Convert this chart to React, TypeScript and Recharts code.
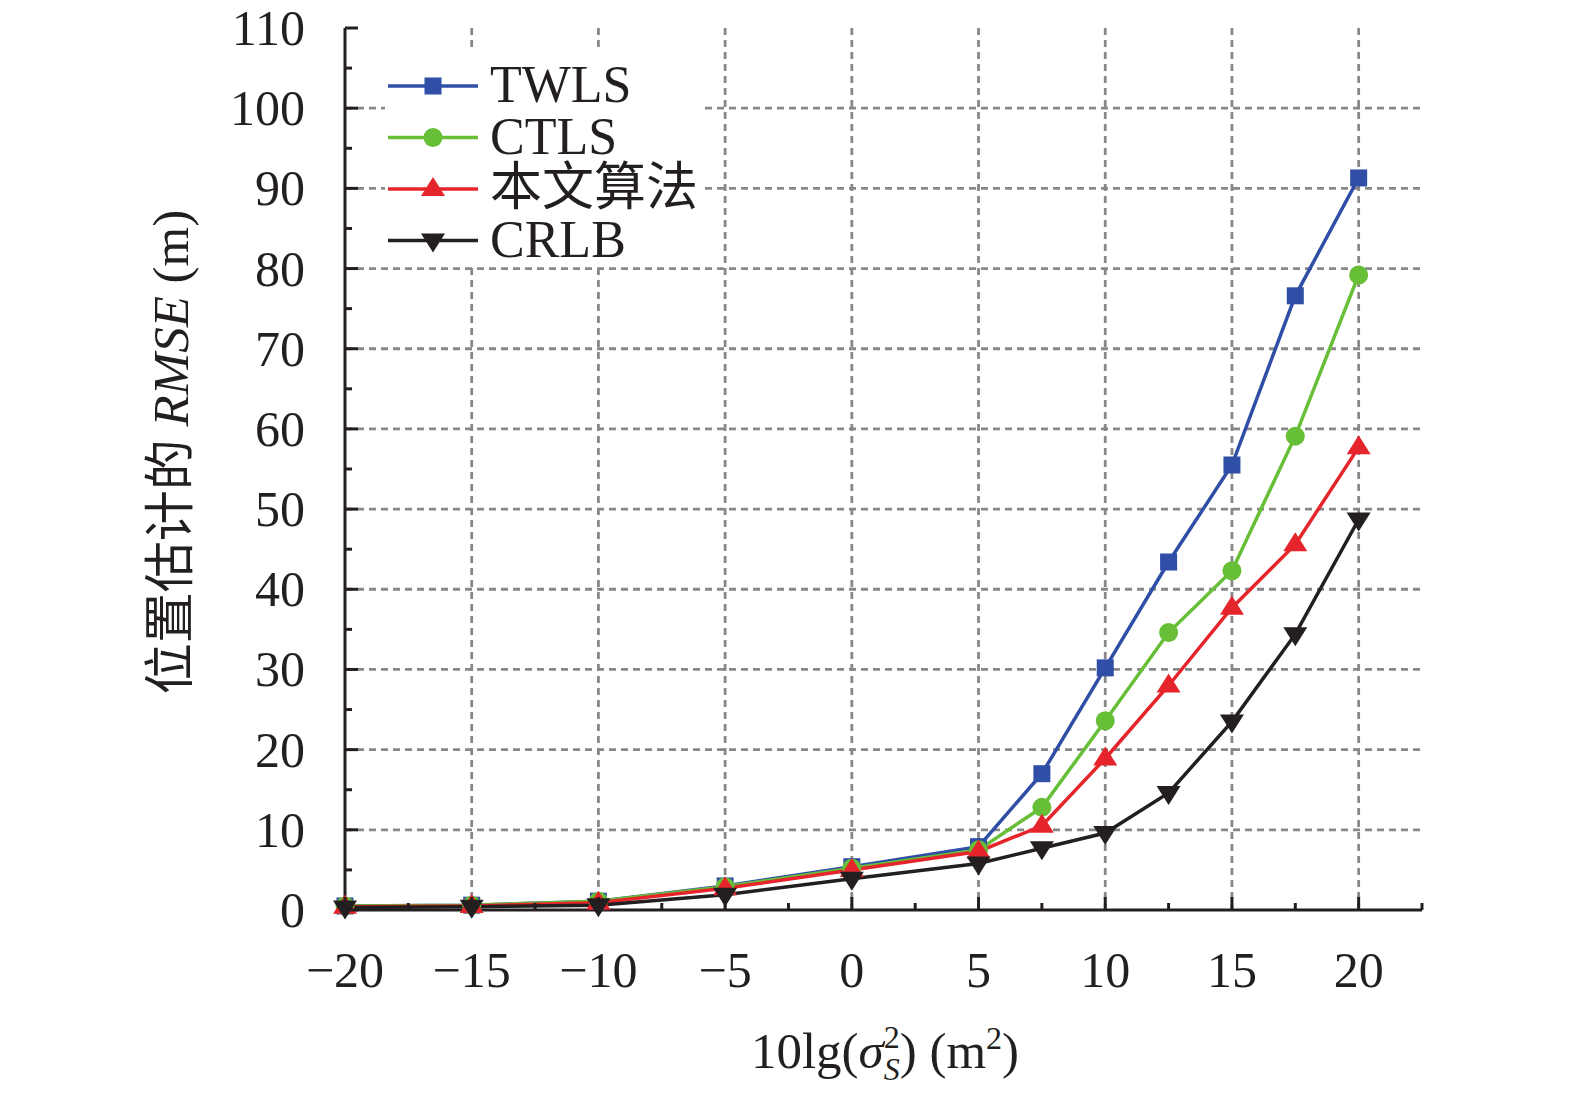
import React from 'react';
import { LineChart, Line, XAxis, YAxis, CartesianGrid, Legend, Label } from 'recharts';

// x: 10lg(sigma_S^2), y: position RMSE (m)
const xValues = [-20, -15, -10, -5, 0, 5, 7.5, 10, 12.5, 15, 17.5, 20];
const twls = [0.5, 0.6, 1.1, 3.0, 5.4, 7.9, 17.0, 30.2, 43.4, 55.5, 76.6, 91.3];
const ctls = [0.5, 0.6, 1.1, 2.9, 5.2, 7.5, 12.8, 23.6, 34.6, 42.3, 59.1, 79.2];
const ours = [0.4, 0.5, 0.9, 2.7, 5.0, 7.3, 10.5, 18.9, 28.0, 37.7, 45.6, 57.7];
const crlb = [0.3, 0.4, 0.6, 1.9, 3.9, 5.8, 7.7, 9.6, 14.6, 23.5, 34.4, 48.7];

const xTicks = [-20, -17.5, -15, -12.5, -10, -7.5, -5, -2.5, 0, 2.5, 5, 7.5, 10, 12.5, 15, 17.5, 20, 22.5];
const yTicks = [0, 5, 10, 15, 20, 25, 30, 35, 40, 45, 50, 55, 60, 65, 70, 75, 80, 85, 90, 95, 100, 105, 110];
const xGrid = [-15, -10, -5, 0, 5, 10, 15, 20];
const yGrid = [10, 20, 30, 40, 50, 60, 70, 80, 90, 100];

const X_DOMAIN: [number, number] = [-20, 22.5];
const Y_DOMAIN: [number, number] = [0, 110];

const FONT = '"Liberation Serif", "Times New Roman", "Noto Sans CJK SC", serif';
const INK = '#231F20';
const GRID = '#888888';

const data = xValues.map((x, i) => ({
  x,
  twls: twls[i],
  ctls: ctls[i],
  ours: ours[i],
  crlb: crlb[i],
}));

type Shape = 'square' | 'circle' | 'up' | 'down';

const series: { key: string; name: string; color: string; shape: Shape }[] = [
  { key: 'twls', name: 'TWLS', color: '#2F4EA6', shape: 'square' },
  { key: 'ctls', name: 'CTLS', color: '#67BE37', shape: 'circle' },
  { key: 'ours', name: '本文算法', color: '#E5242B', shape: 'up' },
  { key: 'crlb', name: 'CRLB', color: INK, shape: 'down' },
];

const marker = (shape: Shape, cx: number, cy: number, color: string, key?: React.Key) => {
  switch (shape) {
    case 'square':
      return <rect key={key} x={cx - 8.5} y={cy - 8.5} width={17} height={17} fill={color} />;
    case 'circle':
      return <circle key={key} cx={cx} cy={cy} r={9.5} fill={color} />;
    case 'up':
      return <polygon key={key} points={`${cx},${cy - 12} ${cx - 12},${cy + 7} ${cx + 12},${cy + 7}`} fill={color} />;
    default:
      return <polygon key={key} points={`${cx},${cy + 12} ${cx - 12},${cy - 7} ${cx + 12},${cy - 7}`} fill={color} />;
  }
};

const fmt = (v: number) => (v < 0 ? '\u2212' + Math.abs(v) : String(v));

const XTick = (props: any) => {
  const { x, y, payload } = props;
  const v = payload.value;
  const major = v % 5 === 0;
  return (
    <g>
      <line x1={x} x2={x} y1={y} y2={y - (major ? 13 : 7)} stroke={INK} strokeWidth={3} />
      {major && (
        <text x={x} y={y + 77} textAnchor="middle" fontSize={50} fontFamily={FONT} fill={INK}>
          {fmt(v)}
        </text>
      )}
    </g>
  );
};

const YTick = (props: any) => {
  const { x, y, payload } = props;
  const v = payload.value;
  const major = v % 10 === 0;
  return (
    <g>
      <line x1={x} x2={x + (major ? 13 : 7)} y1={y} y2={y} stroke={INK} strokeWidth={3} />
      {major && (
        <text x={x - 40} y={y + 17} textAnchor="end" fontSize={50} fontFamily={FONT} fill={INK}>
          {v}
        </text>
      )}
    </g>
  );
};

// legend box: white panel that hides the grid behind it
const LegendBox = () => (
  <svg width={320} height={216} style={{ display: 'block', overflow: 'visible' }}>
    <rect x={0} y={0} width={320} height={216} fill="#fff" />
    {series.map((s, i) => {
      const cy = 36 + i * 51.5;
      return (
        <g key={s.key}>
          <line x1={3} x2={93} y1={cy} y2={cy} stroke={s.color} strokeWidth={3.5} />
          {marker(s.shape, 48, cy, s.color)}
          <text x={105} y={cy + 16} fontSize={52} fontFamily={FONT} fill={INK}>
            {s.name}
          </text>
        </g>
      );
    })}
  </svg>
);

export default function App() {
  return (
    <div style={{ position: 'absolute', left: 0, top: 0, width: 1575, height: 1100, background: '#fff' }}>
      <LineChart width={1575} height={1100} data={data} margin={{ top: 28, right: 153, bottom: 0, left: 0 }}>
        <CartesianGrid
          stroke={GRID}
          strokeWidth={2.8}
          strokeDasharray="7 5"
          verticalCoordinatesGenerator={({ offset }: any) =>
            xGrid.map((v) => offset.left + ((v - X_DOMAIN[0]) / (X_DOMAIN[1] - X_DOMAIN[0])) * offset.width)
          }
          horizontalCoordinatesGenerator={({ offset }: any) =>
            yGrid.map((v) => offset.top + (1 - (v - Y_DOMAIN[0]) / (Y_DOMAIN[1] - Y_DOMAIN[0])) * offset.height)
          }
        />
        <XAxis
          dataKey="x"
          type="number"
          domain={X_DOMAIN}
          ticks={xTicks}
          interval={0}
          height={190}
          tickSize={0}
          tickMargin={0}
          tickLine={false}
          axisLine={{ stroke: INK, strokeWidth: 3 }}
          tick={<XTick />}
        >
          <Label
            content={() => (
              <text x={885} y={1068} textAnchor="middle" fontSize={51} fontFamily={FONT} fill={INK}>
                10lg(
                <tspan fontStyle="italic">σ</tspan>
                <tspan fontSize={32} fontStyle="italic" dy={12}>S</tspan>
                <tspan fontSize={32} dx={-16} dy={-32}>2</tspan>
                <tspan dy={20}>) (m</tspan>
                <tspan fontSize={32} dy={-19}>2</tspan>
                <tspan dy={19}>)</tspan>
              </text>
            )}
          />
        </XAxis>
        <YAxis
          type="number"
          domain={Y_DOMAIN}
          ticks={yTicks}
          interval={0}
          width={345}
          tickSize={0}
          tickMargin={0}
          tickLine={false}
          axisLine={{ stroke: INK, strokeWidth: 3 }}
          tick={<YTick />}
        >
          <Label
            content={() => (
              <text
                x={171}
                y={452}
                transform="rotate(-90 171 452)"
                textAnchor="middle"
                dominantBaseline="central"
                fontSize={51}
                fontFamily={FONT}
                fill={INK}
              >
                位置估计的 <tspan fontStyle="italic">RMSE</tspan> (m)
              </text>
            )}
          />
        </YAxis>
        <Legend
          layout="vertical"
          align="center"
          verticalAlign="middle"
          wrapperStyle={{ left: 385, top: 50, width: 320, height: 216 }}
          content={() => <LegendBox />}
        />
        {series.map((s) => (
          <Line
            key={s.key}
            dataKey={s.key}
            name={s.name}
            type="linear"
            stroke={s.color}
            strokeWidth={3.5}
            isAnimationActive={false}
            dot={(p: any) => marker(s.shape, p.cx, p.cy, s.color, p.index)}
            activeDot={false}
          />
        ))}
      </LineChart>
    </div>
  );
}
